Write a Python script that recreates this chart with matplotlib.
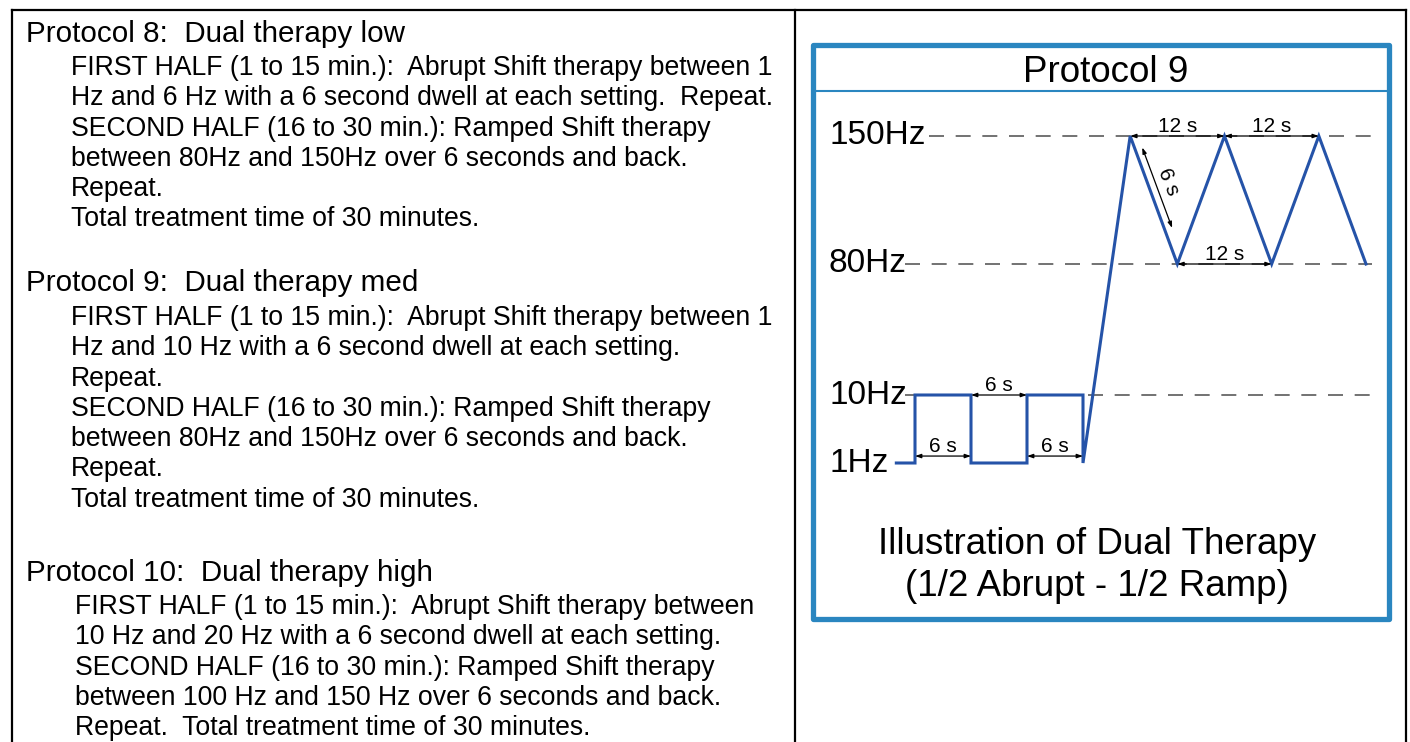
import numpy as np
import matplotlib.pyplot as plt
from matplotlib.patches import Rectangle
from matplotlib.transforms import blended_transform_factory, ScaledTranslation

plt.rcParams['font.family'] = ['Liberation Sans', 'DejaVu Sans']

# --- text of the left column ---
headers = ["Protocol 8:  Dual therapy low",
           "Protocol 9:  Dual therapy med",
           "Protocol 10:  Dual therapy high"]
bodies = [
    ["FIRST HALF (1 to 15 min.):  Abrupt Shift therapy between 1",
     "Hz and 6 Hz with a 6 second dwell at each setting.  Repeat.",
     "SECOND HALF (16 to 30 min.): Ramped Shift therapy",
     "between 80Hz and 150Hz over 6 seconds and back.",
     "Repeat.",
     "Total treatment time of 30 minutes."],
    ["FIRST HALF (1 to 15 min.):  Abrupt Shift therapy between 1",
     "Hz and 10 Hz with a 6 second dwell at each setting.",
     "Repeat.",
     "SECOND HALF (16 to 30 min.): Ramped Shift therapy",
     "between 80Hz and 150Hz over 6 seconds and back.",
     "Repeat.",
     "Total treatment time of 30 minutes."],
    ["FIRST HALF (1 to 15 min.):  Abrupt Shift therapy between",
     "10 Hz and 20 Hz with a 6 second dwell at each setting.",
     "SECOND HALF (16 to 30 min.): Ramped Shift therapy",
     "between 100 Hz and 150 Hz over 6 seconds and back.",
     "Repeat.  Total treatment time of 30 minutes."],
]

# --- illustration data (time in s, frequency in Hz) ---
levels = [1, 10, 80, 150]
level_labels = ["1Hz", "10Hz", "80Hz", "150Hz"]
wave_t = [-2, 0, 0, 6, 6, 12, 12, 18, 18, 24, 30, 36, 42, 48, 54]
wave_hz = [1, 1, 10, 10, 1, 1, 10, 10, 1, 150, 80, 150, 80, 150, 80]
dwell = 6
ramp = 6


def pw(v, xp, fp):
    # piecewise linear with linear extrapolation at both ends
    v = np.asarray(v, dtype=float)
    out = np.interp(v, xp, fp)
    lo = fp[0] + (v - xp[0]) * (fp[1] - fp[0]) / (xp[1] - xp[0])
    hi = fp[-1] + (v - xp[-1]) * (fp[-1] - fp[-2]) / (xp[-1] - xp[-2])
    out = np.where(v < xp[0], lo, out)
    out = np.where(v > xp[-1], hi, out)
    return out


# schematic scales: square part and ramp part are drawn at different widths
t_knots, t_pix = [0, 18, 54], [915, 1083, 1366]
hz_knots, hz_pix = [1, 10, 80, 150], [742 - 463, 742 - 395, 742 - 264, 742 - 136]

fx = lambda v: pw(v, t_knots, t_pix)
ix = lambda v: pw(v, t_pix, t_knots)
fy = lambda v: pw(v, hz_knots, hz_pix)
iy = lambda v: pw(v, hz_pix, hz_knots)

fig = plt.figure(figsize=(14.1, 7.42), dpi=100)

# page axes in pixel units
ax = fig.add_axes([0, 0, 1, 1])
ax.set_xlim(0, 1410)
ax.set_ylim(742, 0)
ax.axis('off')

# table rules
ax.plot([12, 1406], [10, 10], color='black', lw=1.6, solid_capstyle='projecting')
for xv in [12, 795, 1406]:
    ax.plot([xv, xv], [10, 742], color='black', lw=1.6)

# left column text
head_y = [42, 291, 581]
body_start = [75, 325, 614]
body_x = [71, 71, 75]
for k in range(3):
    ax.text(26, head_y[k], headers[k], fontsize=21.3, va='baseline', ha='left')
    for j, line in enumerate(bodies[k]):
        ax.text(body_x[k], body_start[k] + 30.3 * j, line, fontsize=19.2,
                va='baseline', ha='left')

# illustration box
blue_box = '#2a86c0'
ax.add_patch(Rectangle((812.5, 44.5), 576, 574.5, fill=False, ec=blue_box, lw=3.8,
                       joinstyle='round'))
ax.plot([814, 1387], [91, 91], color=blue_box, lw=1.5)
ax.text(1106, 73, "Protocol 9", fontsize=26.5, ha='center', va='center')
ax.text(1097, 545, "Illustration of Dual Therapy", fontsize=26.5, ha='center', va='center')
ax.text(1097, 587, "(1/2 Abrupt - 1/2 Ramp)", fontsize=26.5, ha='center', va='center')

# waveform axes
wax = fig.add_axes([0, 0, 1, 1], facecolor='none')
wax.set_xscale('function', functions=(fx, ix))
wax.set_yscale('function', functions=(fy, iy))
wax.set_xlim(float(ix(0)), float(ix(1410)))
wax.set_ylim(float(iy(0)), float(iy(742)))
wax.axis('off')

# dashed guide lines
dash = dict(color='#5a5a5a', lw=1.2, ls=(0, (9, 7)))
wax.plot([1.5, 54.8], [150, 150], **dash)
wax.plot([-1.1, 54.8], [80, 80], **dash)
wax.plot([-1.1, 0], [10, 10], **dash)
wax.plot([18.6, 54.8], [10, 10], **dash)

wax.plot(wave_t, wave_hz, color='#2553a8', lw=2.2, solid_joinstyle='miter')

# level labels
lab_tr = blended_transform_factory(ax.transData, wax.transData)
for lev, lab in zip(levels, level_labels):
    ax.text(829, lev, lab, transform=lab_tr, fontsize=24, ha='left', va='center')

# dimension arrows
arr = dict(arrowstyle='<|-|>,head_length=0.35,head_width=0.12', color='black',
           lw=0.9, shrinkA=0, shrinkB=0)
up7 = wax.transData + ScaledTranslation(0, 5 / 72, fig.dpi_scale_trans)


def dim(t0, t1, hz, label, tr=None, dy=0):
    tr = wax.transData if tr is None else tr
    wax.annotate('', xy=(t0, hz), xytext=(t1, hz), xycoords=tr, textcoords=tr,
                 arrowprops=arr)
    wax.annotate(label, xy=((t0 + t1) / 2, hz), xycoords=tr, xytext=(0, dy),
                 textcoords='offset points', ha='center', va='bottom', fontsize=15)


dim(0, dwell, 1, "6 s", tr=up7)
dim(dwell, 2 * dwell, 10, "6 s")
dim(2 * dwell, 3 * dwell, 1, "6 s", tr=up7)
dim(24, 24 + 2 * ramp, 150, "12 s")
dim(36, 36 + 2 * ramp, 150, "12 s")
dim(30, 30 + 2 * ramp, 80, "12 s")

# 6 s along the falling ramp
side = wax.transData + ScaledTranslation(7 / 72, -3 / 72, fig.dpi_scale_trans)
wax.annotate('', xy=(24.3, 146), xytext=(28.1, 102), xycoords=side, textcoords=side,
             arrowprops=arr)
wax.text(27.6, 127, "6 s", transform=side, rotation=-68, fontsize=15,
         ha='center', va='center')

fig.savefig('out.png', dpi=100)
